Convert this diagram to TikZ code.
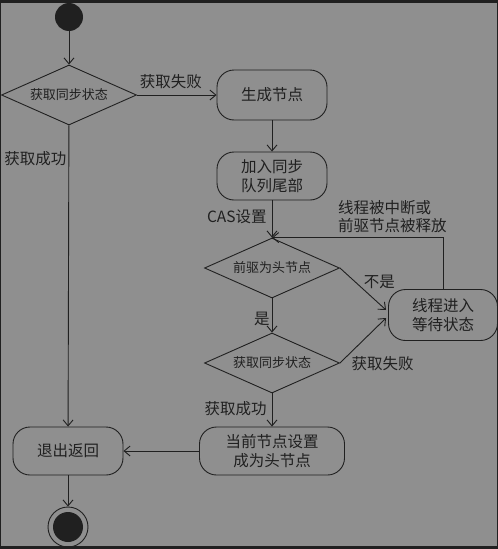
\documentclass[tikz,border=0pt]{standalone}
\usepackage{fontspec}
\setmainfont{Noto Sans CJK SC}
\usetikzlibrary{arrows.meta,shapes.geometric}
\definecolor{bgc}{HTML}{8F8F8F}
\definecolor{ink}{HTML}{202020}

\begin{document}
\begin{tikzpicture}[>={Straight Barb[length=6pt,width=10pt]},x=1pt,y=-1pt,
  line width=0.9pt,draw=ink,text=ink,
  act/.style={draw,rectangle,rounded corners=17pt,minimum width=110pt,
    minimum height=50pt,align=center,font=\fontsize{15.5}{19}\selectfont},
  choice/.style={draw,diamond,aspect=2.25,inner sep=0pt,minimum width=135pt,
    minimum height=60pt,font=\fontsize{13}{15}\selectfont},
  lbl/.style={font=\fontsize{15.5}{18}\selectfont,inner sep=2pt},
  flow/.style={->}]
\fill[ink] (0,0) rectangle (498,549);
\fill[bgc] (1,3) rectangle (497,546);
\node[circle,fill=ink,minimum size=28pt,inner sep=0pt] (start) at (69,17) {};
\node[choice] (sync1) at (69,95) {获取同步状态};
\node[act] (gen) at (272,95) {生成节点};
\node[act,minimum height=48pt] (enq) at (272,176) {加入同步\\队列尾部};
\node[choice] (pred) at (272,268) {前驱为头节点};
\node[choice] (sync2) at (272,363) {获取同步状态};
\node[act,minimum width=109pt,minimum height=51pt] (wait) at (443,315) {线程进入\\等待状态};
\node[act,minimum width=145pt,minimum height=48pt] (head) at (272,451) {当前节点设置\\成为头节点};
\node[act,minimum height=48pt] (exit) at (68,451) {退出返回};
\node[circle,draw,minimum size=40pt,inner sep=0pt] (stop) at (68,527) {};
\fill[ink] (stop) circle (15pt);
\draw[flow] (start) -- (sync1);
\draw[flow] (sync1.east) -- node[lbl,above,yshift=4pt,xshift=-6pt] {获取失败} (gen.west);
\draw[flow] (gen) -- (enq);
\draw[flow] (enq) -- node[lbl,left,pos=0.45,xshift=-3pt] {CAS设置} (pred.north);
\draw[flow] (pred) -- node[lbl,left,pos=0.6] {是} (sync2);
\draw[flow] (pred.east) -- node[lbl,above right,pos=0.55,xshift=-4pt] {不是} ([yshift=5pt,xshift=-2pt]wait.west);
\draw[flow] (sync2.east) -- node[lbl,below right,pos=0.2] {获取失败} ([yshift=-3pt,xshift=-2pt]wait.west);
\draw[flow] (wait.north) |- node[lbl,anchor=south east,align=left,pos=0.5,xshift=6pt,yshift=2pt]
  {线程被中断或\\前驱节点被释放} (pred.north);
\draw[flow] (sync2) -- node[lbl,left,pos=0.45,xshift=-3pt] {获取成功} (head);
\draw[flow] (head) -- (exit);
\draw[flow] (sync1) -- node[lbl,left,pos=0.11] {获取成功} (exit);
\draw[flow] (exit) -- (stop);
\end{tikzpicture}
\end{document}
